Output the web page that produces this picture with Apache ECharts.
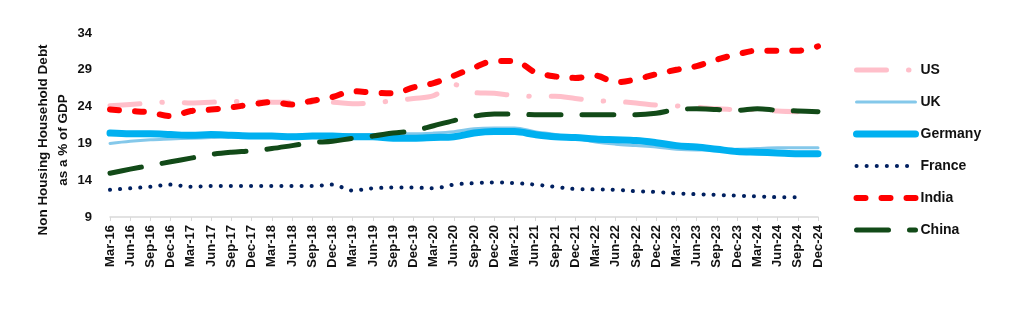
<!DOCTYPE html>
<html>
<head>
<meta charset="utf-8">
<title>Non Housing Household Debt</title>
<script src="https://cdn.jsdelivr.net/npm/echarts@6/dist/echarts.min.js"></script>
<style>
    html, body { margin: 0; padding: 0; background: #fff; }
    #chart { width: 1012px; height: 312px; }
</style>
</head>
<body>
<div id="chart"></div>
<script>
    // quarters, Mar-16 .. Dec-24
    const quarters = [
        'Mar-16', 'Jun-16', 'Sep-16', 'Dec-16', 'Mar-17', 'Jun-17', 'Sep-17', 'Dec-17',
        'Mar-18', 'Jun-18', 'Sep-18', 'Dec-18', 'Mar-19', 'Jun-19', 'Sep-19', 'Dec-19',
        'Mar-20', 'Jun-20', 'Sep-20', 'Dec-20', 'Mar-21', 'Jun-21', 'Sep-21', 'Dec-21',
        'Mar-22', 'Jun-22', 'Sep-22', 'Dec-22', 'Mar-23', 'Jun-23', 'Sep-23', 'Dec-23',
        'Mar-24', 'Jun-24', 'Sep-24', 'Dec-24'
    ];
    const yTicks = [9, 14, 19, 24, 29, 34];

    // % of GDP
    const us = [24.1, 24.3, 24.5, 24.6, 24.5, 24.6, 24.7, 24.7, 24.6, 24.6, 24.6, 24.6,
        24.4, 24.5, 24.8, 25.1, 25.5, 27.0, 25.9, 25.8, 25.5, 25.4, 25.4, 25.1,
        24.8, 24.7, 24.5, 24.2, 24.1, 23.9, 23.7, 23.6, 23.6, 23.4, 23.3, null];
    const uk = [19.0, 19.3, 19.5, 19.6, 19.7, 19.8, 19.9, 19.9, 20.0, 20.1, 20.2, 20.2,
        20.2, 20.2, 20.3, 20.3, 20.4, 20.6, 21.0, 21.1, 21.1, 20.6, 20.2, 19.7,
        19.2, 18.9, 18.7, 18.5, 18.2, 18.1, 18.1, 18.2, 18.3, 18.4, 18.4, 18.4];
    const germany = [20.4, 20.3, 20.3, 20.2, 20.1, 20.2, 20.1, 20.0, 20.0, 19.9, 20.0, 20.0,
        19.9, 19.9, 19.7, 19.7, 19.8, 19.9, 20.4, 20.6, 20.6, 20.2, 19.9, 19.8,
        19.6, 19.5, 19.4, 19.1, 18.7, 18.5, 18.2, 17.9, 17.8, 17.7, 17.6, 17.6];
    const france = [12.7, 12.9, 13.1, 13.4, 13.1, 13.2, 13.2, 13.2, 13.2, 13.2, 13.2, 13.4,
        12.6, 12.9, 13.0, 13.0, 12.9, 13.4, 13.6, 13.7, 13.6, 13.4, 13.1, 12.8,
        12.75, 12.7, 12.5, 12.4, 12.2, 12.1, 12.0, 11.9, 11.8, 11.7, 11.7, null];
    const india = [23.6, 23.4, 23.2, 22.7, 23.4, 23.6, 23.9, 24.3, 24.6, 24.3, 24.8, 25.3,
        26.1, 25.9, 25.8, 26.6, 27.2, 28.2, 29.3, 30.2, 30.2, 28.7, 28.1, 27.9,
        28.2, 27.3, 27.7, 28.4, 29.0, 29.5, 30.4, 31.1, 31.6, 31.6, 31.6, 32.2];
    const china = [14.95, 15.5, 16.0, 16.5, 17.0, 17.5, 17.8, 18.0, 18.3, 18.7, 19.1, 19.3,
        19.7, 20.0, 20.4, 20.7, 21.4, 22.1, 22.7, 23.0, 23.0, 22.9, 22.9, 22.9,
        22.9, 22.9, 22.9, 23.1, 23.6, 23.7, 23.6, 23.5, 23.7, 23.5, 23.4, 23.3];

    const font = '"Liberation Sans", Arial, sans-serif';

    function line (name, data, style) {
        return {
            name: name,
            type: 'line',
            data: data,
            smooth: 0.35,
            symbol: 'none',
            showSymbol: false,
            lineStyle: Object.assign({ cap: 'round', join: 'round' }, style),
            itemStyle: { color: style.color }
        };
    }

    const chart = echarts.init(document.getElementById('chart'));
    chart.setOption({
        animation: false,
        grid: { left: 110, right: 194, top: 33, bottom: 95 },
        legend: {
            orient: 'vertical',
            left: 853,
            top: 63,
            padding: 0,
            itemWidth: 59,
            itemHeight: 14,
            itemGap: 18,
            itemStyle: { opacity: 0 }, // only the line sample, no marker
            lineStyle: { width: 'inherit' },
            textStyle: { color: '#111', fontWeight: 'bold', fontSize: 14, fontFamily: font },
            data: ['US', 'UK', 'Germany', 'France', 'India', 'China']
        },
        xAxis: {
            type: 'category',
            data: quarters,
            boundaryGap: false,
            axisLine: { lineStyle: { color: '#d9d9d9', width: 1.5 } },
            axisTick: { show: true, alignWithLabel: true, length: 4, lineStyle: { color: '#d9d9d9' } },
            axisLabel: {
                interval: 0,
                rotate: 90,
                margin: 8,
                color: '#111',
                fontWeight: 'bold',
                fontSize: 13,
                fontFamily: font
            },
            splitLine: { show: false }
        },
        yAxis: {
            type: 'value',
            min: 9,
            max: 34,
            name: 'Non Housing Household Debt\nas a % of GDP',
            nameLocation: 'middle',
            nameGap: 37,
            nameMoveOverlap: false,
            nameRotate: 90,
            nameTextStyle: {
                color: '#111',
                fontWeight: 'bold',
                fontSize: 13.5,
                lineHeight: 20,
                fontFamily: font,
                padding: [0, 30, 0, 0]
            },
            axisLine: { show: false },
            axisTick: { show: false },
            splitLine: { show: false },
            axisLabel: {
                customValues: yTicks,
                margin: 18,
                color: '#111',
                fontWeight: 'bold',
                fontSize: 13,
                fontFamily: font
            }
        },
        series: [
            line('US', us, { color: '#ffbfca', width: 5, type: [30, 22, 0.5, 22] }),
            line('UK', uk, { color: '#84c8ea', width: 3, type: 'solid' }),
            line('Germany', germany, { color: '#00b0f0', width: 7, type: 'solid' }),
            line('France', france, { color: '#002060', width: 4, type: [0.1, 10] }),
            line('India', india, { color: '#ff0000', width: 6, type: [9, 16] }),
            line('China', china, { color: '#124a18', width: 5, type: [32, 21] })
        ]
    });
</script>
</body>
</html>
